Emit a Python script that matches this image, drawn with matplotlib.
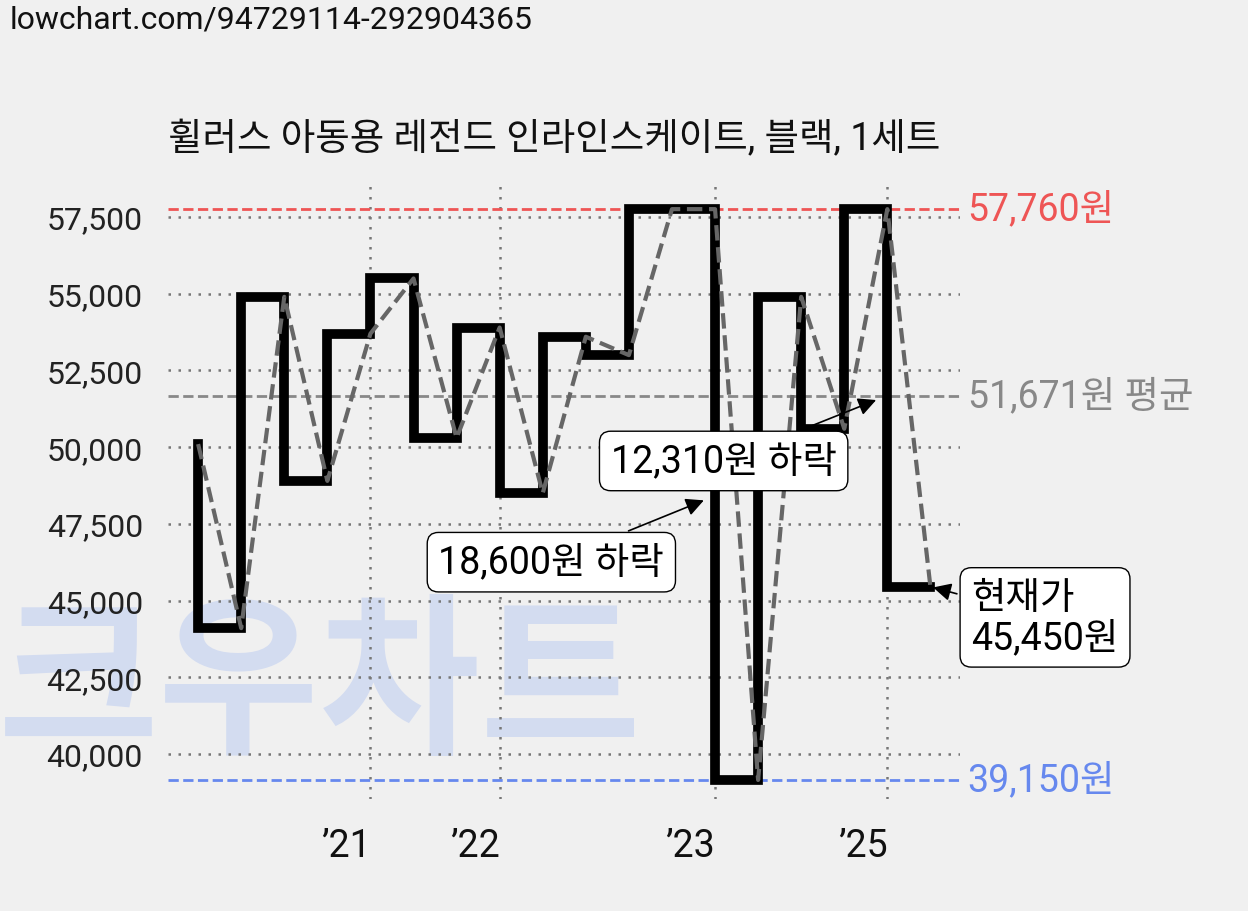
import matplotlib
matplotlib.use("Agg")
import matplotlib.pyplot as plt

plt.rcParams['font.family'] = ['Roboto', 'Noto Sans CJK KR', 'DejaVu Sans']

prices = [50100, 44100, 54900, 48900, 53700, 55500, 50300, 53900, 48500,
          53600, 53000, 57760, 57760, 39150, 54900, 50600, 57760, 45450]
tick_pos = [4, 7, 12, 16]
tick_labels = ["’21", "’22", "’23", "’25"]
yticks = [40000, 42500, 45000, 47500, 50000, 52500, 55000, 57500]
max_p, min_p, avg_p, cur_p = 57760, 39150, 51671, 45450

fig = plt.figure(figsize=(12.48, 9.12), dpi=100, facecolor='#f0f0f0')

fig.text(-0.002, 0.245, "크우차트", fontsize=126, fontweight='bold', color='#d3dcf0',
         ha='left', va='center', zorder=-5, family=['Noto Sans CJK KR'])

ax = fig.add_axes([0.1346, 0.123, 0.6344, 0.674])
ax.set_zorder(1)
ax.set_facecolor('none')
x = list(range(len(prices)))

for y in yticks:
    ax.axhline(y, color='#777777', ls=(0, (1, 3)), lw=1.8, zorder=1)
for t in tick_pos:
    ax.axvline(t, color='#777777', ls=(0, (1, 3)), lw=1.8, zorder=1)

ax.axhline(max_p, color='#ee5555', ls='--', lw=2, zorder=2)
ax.axhline(min_p, color='#6688ee', ls='--', lw=2, zorder=2)
ax.axhline(avg_p, color='#888888', ls='--', lw=2, zorder=2)

ax.step(x, prices, where='pre', color='black', lw=7, zorder=3, solid_joinstyle='miter')
ax.plot(x, prices, color='#666666', ls='--', lw=3, zorder=4)

ax.set_xlim(-0.7, 17.68)
ax.set_ylim(38535, 58575)
ax.set_yticks(yticks)
ax.set_yticklabels([f"{v:,}" for v in yticks], fontsize=23, color='#222222')
ax.set_xticks(tick_pos)
ax.set_xticklabels(tick_labels, fontsize=27, color='#111111', ha='right')
ax.tick_params(length=0, pad=18)
ax.tick_params(axis='x', pad=20)
for s in ax.spines.values():
    s.set_visible(False)

tr = ax.get_yaxis_transform()
ax.text(1.01, max_p, f"{max_p:,}원", transform=tr, color='#ee5555', fontsize=27, va='center')
ax.text(1.01, min_p, f"{min_p:,}원", transform=tr, color='#6688ee', fontsize=27, va='center')
ax.text(1.01, avg_p, f"{avg_p:,}원 평균", transform=tr, color='#888888', fontsize=27, va='center')

box = dict(boxstyle='round,pad=0.3', fc='white', ec='black', lw=1)
arr = dict(arrowstyle='-|>', color='black', lw=1.2)
ax.annotate("18,600원 하락", xy=(11.8, 48300), xytext=(8.2, 46250), fontsize=27,
            ha='center', va='center', bbox=box, arrowprops=arr, zorder=6)
ax.annotate("12,310원 하락", xy=(15.8, 51570), xytext=(12.2, 49550), fontsize=27,
            ha='center', va='center', bbox=box, arrowprops=arr, zorder=6)
ax.annotate("현재가\n45,450원", xy=(17.0, 45450), xytext=(17.95, 44450), fontsize=27,
            ha='left', va='center', bbox=box, arrowprops=arr, zorder=6, linespacing=1.1,
            annotation_clip=False)

fig.text(0.1346, 0.835, "휠러스 아동용 레전드 인라인스케이트, 블랙, 1세트", fontsize=27, color='#111111')
fig.text(0.008, 0.978, "lowchart.com/94729114-292904365", fontsize=23, color='#111111', va='center')

fig.savefig("out.png", dpi=100, facecolor=fig.get_facecolor())
